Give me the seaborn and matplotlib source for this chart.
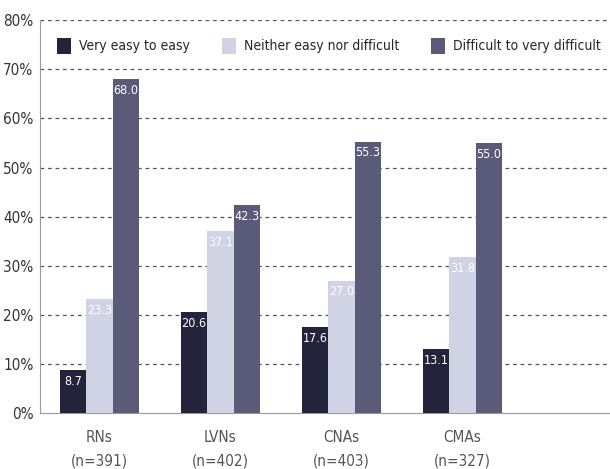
import pandas as pd
import numpy as np
import matplotlib
matplotlib.use('Agg')
import matplotlib.pyplot as plt
import seaborn as sns

groups = ['RNs\n(n=391)', 'LVNs\n(n=402)', 'CNAs\n(n=403)', 'CMAs\n(n=327)']
series = ['Very easy to easy', 'Neither easy nor difficult', 'Difficult to very difficult']
easy = [8.7, 20.6, 17.6, 13.1]
neither = [23.3, 37.1, 27.0, 31.8]
difficult = [68.0, 42.3, 55.3, 55.0]
colors = ['#23233b', '#d0d3e3', '#5a5b78']

rows = []
for i, g in enumerate(groups):
    rows.append((g, series[0], easy[i]))
    rows.append((g, series[1], neither[i]))
    rows.append((g, series[2], difficult[i]))
df = pd.DataFrame(rows, columns=['group', 'series', 'value'])

sns.set_style('white')
plt.rcParams['font.family'] = ['DejaVu Sans']
plt.rcParams['font.stretch'] = 'condensed'

fig = plt.figure(figsize=(6.1, 4.69), dpi=100)
ax = fig.add_axes([0.066, 0.119, 0.934, 0.838])

sns.barplot(data=df, x='group', y='value', hue='series', palette=colors,
            width=0.66, gap=0, saturation=1, linewidth=0, ax=ax, zorder=3)

for cont in ax.containers:
    for bar in cont:
        h = bar.get_height()
        ax.text(bar.get_x() + bar.get_width() / 2, h - 1.0, f'{h:.1f}',
                ha='center', va='top', color='white', fontsize=9, zorder=4)

ax.set_ylim(0, 80)
ax.set_xlim(-0.49, 4.22)
ax.set_yticks(np.arange(0, 81, 10))
ax.set_yticklabels([f'{v}%' for v in range(0, 81, 10)], fontsize=11, color='#333333')
ax.tick_params(axis='x', labelsize=11, labelcolor='#555555', length=0, pad=12)
ax.tick_params(axis='y', length=3, color='#888888', pad=2)
for lab in ax.get_xticklabels():
    lab.set_linespacing(1.75)
for v in range(10, 81, 10):
    ax.axhline(v, color='#555555', linestyle=(0, (3, 3)), linewidth=0.9, zorder=1)
ax.set_xlabel('')
ax.set_ylabel('')
for s in ['top', 'right']:
    ax.spines[s].set_visible(False)
ax.spines['left'].set_color('#999999')
ax.spines['bottom'].set_color('#999999')

ax.legend(loc='upper left', bbox_to_anchor=(0.012, 0.98), ncol=3, frameon=False,
          fontsize=10, handlelength=1.0, handleheight=1.4, columnspacing=2.3,
          handletextpad=0.6, borderaxespad=0.3)

fig.savefig('out.png', dpi=100)
